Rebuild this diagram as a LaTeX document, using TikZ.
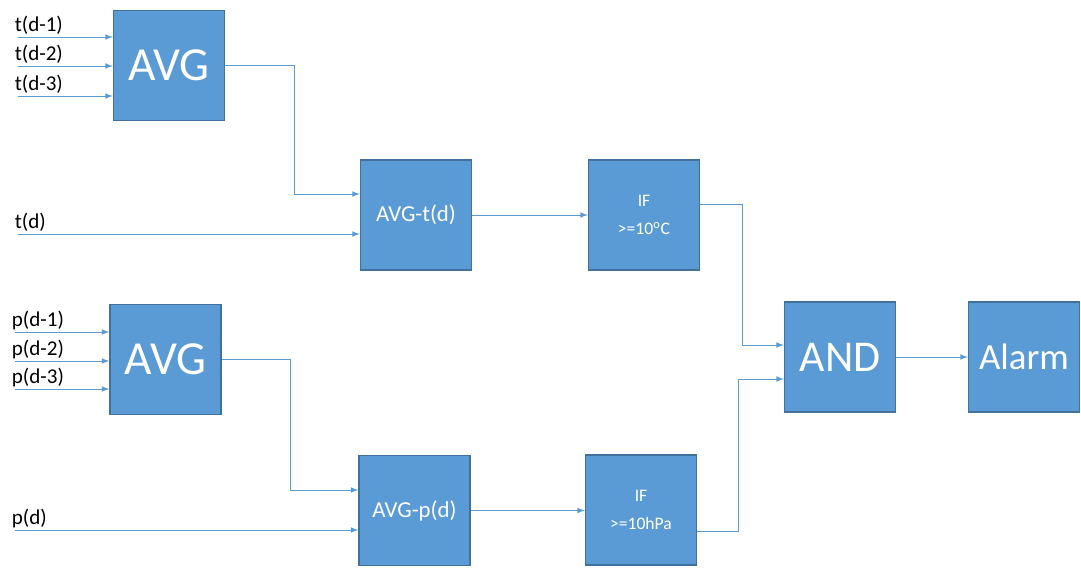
\documentclass[tikz,border=0pt]{standalone}
\usepackage{fontspec}
\setmainfont{Carlito}
\definecolor{boxfill}{HTML}{5B9BD5}
\definecolor{boxline}{HTML}{41719C}
\definecolor{wire}{HTML}{5B9BD5}
\begin{document}
\begin{tikzpicture}[x=0.02cm,y=-0.02cm,>=latex,
	blk/.style={draw=boxline,line width=0.8pt,fill=boxfill,text=white,minimum width=2.22cm,minimum height=2.2cm,inner sep=0pt,align=center},
	big/.style={font=\fontsize{27}{30}\selectfont},
	mid/.style={font=\fontsize{13}{16}\selectfont},
	small/.style={font=\fontsize{10}{16}\selectfont},
	lbl/.style={above right,inner sep=1pt,font=\fontsize{12}{14}\selectfont},
	conn/.style={draw=wire,line width=0.5pt,->}]
	\useasboundingbox (0,0) rectangle (1081,573);
	\node[blk,big] (avgt) at (169,65.5) {AVG};
	\node[blk,big] (avgp) at (165.5,359.5) {AVG};
	\node[blk,mid] (avgtd) at (416,215) {AVG-t(d)};
	\node[blk,mid] (avgpd) at (414.5,510.5) {AVG-p(d)};
	\node[blk,small] (ift) at (644,215) {IF\\>=10\textsuperscript{o}C};
	\node[blk,small] (ifp) at (641,510) {IF\\>=10hPa};
	\node[blk,font=\fontsize{25}{28}\selectfont] (and) at (840,357) {AND};
	\node[blk,font=\fontsize{21}{24}\selectfont] (alarm) at (1024,357) {Alarm};
	\coordinate (t1) at (18,37);
	\coordinate (t2) at (18,66);
	\coordinate (t3) at (18,96);
	\coordinate (td) at (18,234);
	\coordinate (p1) at (15,332);
	\coordinate (p2) at (15,361);
	\coordinate (p3) at (15,389);
	\coordinate (pd) at (15,530);
	\node[lbl] (lt1) at ([xshift=-3pt]t1) {t(d-1)};
	\node[lbl] (lt2) at ([xshift=-3pt]t2) {t(d-2)};
	\node[lbl] (lt3) at ([xshift=-3pt]t3) {t(d-3)};
	\node[lbl] (ltd) at ([xshift=-3pt]td) {t(d)};
	\node[lbl] (lp1) at ([xshift=-3pt]p1) {p(d-1)};
	\node[lbl] (lp2) at ([xshift=-3pt]p2) {p(d-2)};
	\node[lbl] (lp3) at ([xshift=-3pt]p3) {p(d-3)};
	\node[lbl] (lpd) at ([xshift=-3pt]pd) {p(d)};
	\draw[conn] (t1) -- (t1 -| avgt.west);
	\draw[conn] (t2) -- (t2 -| avgt.west);
	\draw[conn] (t3) -- (t3 -| avgt.west);
	\draw[conn] (td) -- (td -| avgtd.west);
	\draw[conn] (p1) -- (p1 -| avgp.west);
	\draw[conn] (p2) -- (p2 -| avgp.west);
	\draw[conn] (p3) -- (p3 -| avgp.west);
	\draw[conn] (pd) -- (pd -| avgpd.west);
	\draw[conn] (avgt.east) -- ++(69,0) |- ([yshift=0.42cm]avgtd.west);
	\draw[conn] (avgp.east) -- ++(69,0) |- ([yshift=0.41cm]avgpd.west);
	\draw[conn] (avgtd.east) -- (avgtd.east -| ift.west);
	\draw[conn] (avgpd.east) -- (avgpd.east -| ifp.west);
	\draw[conn] ([yshift=0.22cm]ift.east) -- ++(42,0) |- ([yshift=0.24cm]and.west);
	\draw[conn] ([yshift=-0.42cm]ifp.east) -- ++(41,0) |- ([yshift=-0.44cm]and.west);
	\draw[conn] (and.east) -- (and.east -| alarm.west);
\end{tikzpicture}
\end{document}
